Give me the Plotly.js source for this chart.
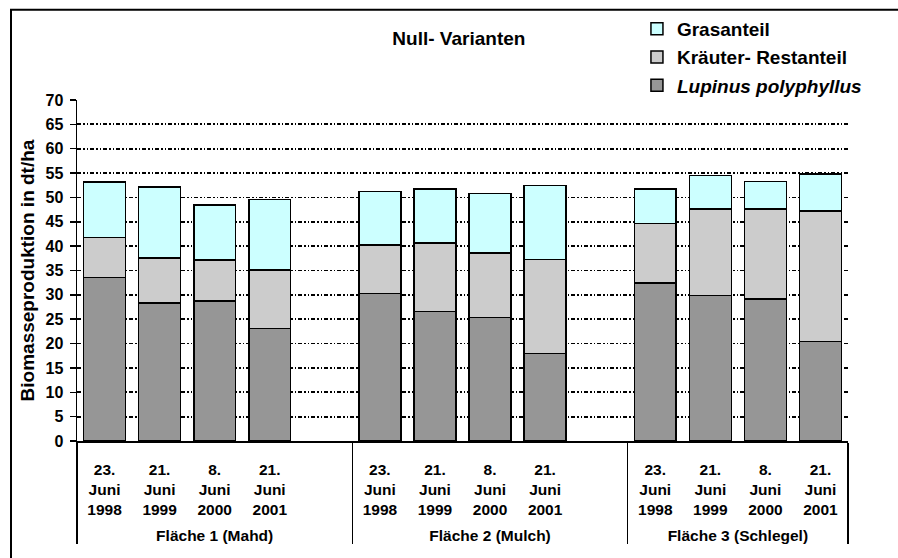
<!DOCTYPE html>
<html>
<head>
<meta charset="utf-8">
<script src="https://cdn.plot.ly/plotly-3.0.1.min.js"></script>
<style>html,body{margin:0;padding:0;background:#fff;}#chart{width:898px;height:558px;}</style>
</head>
<body>
<div id="chart"></div>
<script>
// ---- data ----
const groups = ['Fläche 1 (Mahd)', 'Fläche 2 (Mulch)', 'Fläche 3 (Schlegel)'];
const dates = ['23.<br>Juni<br>1998<br>\u00a0', '21.<br>Juni<br>1999<br>\u00a0', '8.<br>Juni<br>2000<br>\u00a0', '21.<br>Juni<br>2001<br>\u00a0'];
const seriesNames = ['<b><i>Lupinus polyphyllus</i></b>', '<b>Kräuter- Restanteil</b>', '<b>Grasanteil</b>'];
const lupinus = [33.6, 28.3, 28.7, 23.1, 30.3, 26.6, 25.4, 18.0, 32.4, 29.9, 29.1, 20.4];
const kraeuter = [8.2, 9.3, 8.5, 12.0, 9.9, 14.0, 13.2, 19.3, 12.3, 17.7, 18.5, 26.8];
const gras = [11.4, 14.5, 11.2, 14.5, 11.0, 11.1, 12.2, 15.1, 7.0, 6.9, 5.7, 7.6];
const yTicks = [0, 5, 10, 15, 20, 25, 30, 35, 40, 45, 50, 55, 60, 65, 70];

// ---- build multicategory x (with one empty spacer slot after groups 1 and 2) ----
const spacer = ' ';
function buildXY(values) {
  const gx = [], dx = [], y = [];
  groups.forEach((g, gi) => {
    dates.forEach((d, di) => { gx.push(g); dx.push(d); y.push(values[gi * dates.length + di]); });
    if (gi < groups.length - 1) { gx.push(g); dx.push(spacer); y.push(null); }
  });
  return { x: [gx, dx], y };
}

const colors = ['#969696', '#cccccc', '#ccffff'];
const ranks = [3, 2, 1];
const traces = [lupinus, kraeuter, gras].map((vals, i) => {
  const xy = buildXY(vals);
  return {
    type: 'bar', x: xy.x, y: xy.y, name: seriesNames[i],
    legendgroup: 'g' + i, legendrank: ranks[i],
    marker: { color: colors[i], line: { color: '#000', width: 1.5 } },
    width: 0.76, hoverinfo: 'y'
  };
});

const F = 'Arial, "Liberation Sans", Helvetica, sans-serif';
const layout = {
  width: 898, height: 558,
  margin: { l: 77, r: 50, t: 99.5, b: 116.5, autoexpand: false },
  paper_bgcolor: '#fff', plot_bgcolor: '#fff',
  barmode: 'stack', bargap: 0.24,
  showlegend: true,
  legend: {
    x: 0.7093, xref: 'container', y: 0.9821, yref: 'container', xanchor: 'left', yanchor: 'top',
    font: { family: F, size: 19, color: '#000', weight: 'bold' },
    bgcolor: 'rgba(0,0,0,0)', traceorder: 'grouped', tracegroupgap: 0.5, itemwidth: 30
  },
  title: {
    text: '<b>Null- Varianten</b>', x: 0.511, xref: 'container', xanchor: 'center',
    y: 0.931, yref: 'container', yanchor: 'middle',
    font: { family: F, size: 19, color: '#000' }
  },
  xaxis: {
    type: 'multicategory',
    showline: true, linecolor: '#000', linewidth: 1.5,
    ticks: '', showgrid: false, zeroline: false,
    showdividers: true, dividercolor: '#000', dividerwidth: 1.5,
    ticklabelstandoff: 14,
    tickfont: { family: F, size: 15.5, color: '#000', weight: 'bold' },
    range: [-0.5, 13.5]
  },
  yaxis: {
    range: [0, 70], tickvals: yTicks, ticktext: yTicks.map(String),
    showline: true, linecolor: '#000', linewidth: 1.5,
    ticks: 'outside', ticklen: 6, tickwidth: 1.5, tickcolor: '#000',
    ticklabelstandoff: 3,
    showgrid: true, gridcolor: '#000', gridwidth: 1.8, griddash: '4px,2px,1.5px,2px,1.5px,2px',
    zeroline: false,
    tickfont: { family: F, size: 16, color: '#000', weight: 'bold' },
    title: { text: '<b>Biomasseproduktion in dt/ha</b>', font: { family: F, size: 19, color: '#000' }, standoff: 6 }
  },
  shapes: [
    { type: 'rect', xref: 'paper', yref: 'paper', x0: -0.0856, x1: 1.3, y0: -0.4, y1: 1.2646,
      line: { color: '#000', width: 2 }, fillcolor: 'rgba(0,0,0,0)', layer: 'above' }
  ]
};

Plotly.newPlot('chart', traces, layout, { displayModeBar: false, staticPlot: true });
</script>
</body>
</html>
